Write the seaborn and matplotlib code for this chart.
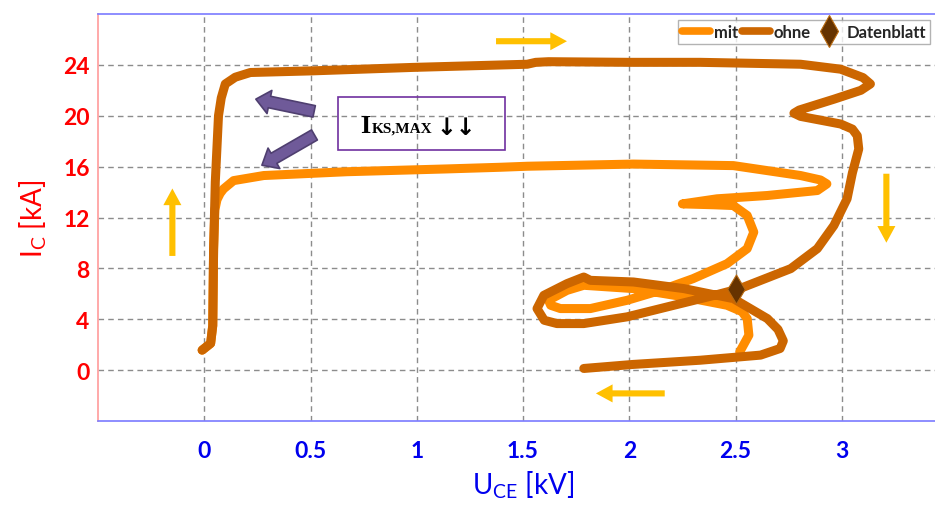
"""
IGBT short-circuit trajectory: I_C over U_CE, mit / ohne
"""

import matplotlib
matplotlib.use("Agg")
import matplotlib.pyplot as plt
import seaborn as sns
from matplotlib.lines import Line2D
from matplotlib.patches import Rectangle

sns.set_theme(style="white")
plt.rcParams["font.family"] = ["Lato", "DejaVu Sans"]

# --- data (U_CE in kV, I_C in kA) ---
ohne_u = [-0.01, 0.03, 0.04, 0.044, 0.052, 0.067, 0.08, 0.099, 0.146, 0.217,
          0.51, 0.98, 1.52, 1.56, 1.62, 2.0, 2.335, 2.806, 2.995, 3.10,
          3.135, 3.09, 2.963, 2.80, 2.775, 2.806, 2.995, 3.05, 3.073, 3.08,
          3.05, 3.025, 2.963, 2.885, 2.76, 2.52, 2.40, 2.21, 1.99, 1.786,
          1.66, 1.60, 1.566, 1.598, 1.707, 1.786, 1.817, 2.02, 2.257, 2.49,
          2.65, 2.70, 2.725, 2.71, 2.618, 2.335, 2.02, 1.786]
ohne_i = [1.57, 2.1, 3.5, 9.5, 14.8, 20.0, 21.4, 22.5, 23.03, 23.4,
          23.53, 23.8, 24.05, 24.2, 24.25, 24.2, 24.2, 24.05, 23.66, 23.0,
          22.5, 22.0, 21.3, 20.45, 20.2, 19.95, 19.35, 18.95, 18.43, 17.39,
          15.5, 13.47, 11.37, 9.55, 7.98, 6.41, 5.88, 5.1, 4.19, 3.66,
          3.66, 3.92, 4.84, 5.88, 6.8, 7.32, 7.06, 6.93, 6.41, 5.62,
          4.05, 3.2, 2.3, 1.7, 1.18, 0.78, 0.45, 0.13]

mit_u = [-0.01, 0.03, 0.04, 0.044, 0.05, 0.06, 0.075, 0.091, 0.138, 0.28,
         0.672, 1.143, 1.394, 1.52, 2.02, 2.49, 2.806, 2.90, 2.93, 2.885,
         2.65, 2.413, 2.25, 2.40, 2.49, 2.555, 2.586, 2.555, 2.46, 2.30,
         2.147, 1.99, 1.817, 1.676, 1.63, 1.62, 1.707, 1.786, 2.02, 2.257,
         2.46, 2.53, 2.555, 2.563, 2.52]
mit_i = [1.57, 2.1, 3.5, 9.5, 12.6, 13.4, 13.9, 14.25, 14.9, 15.3,
         15.6, 15.82, 15.95, 16.03, 16.2, 16.08, 15.3, 14.95, 14.64, 14.12,
         13.73, 13.47, 13.07, 13.0, 12.94, 12.16, 10.85, 9.55, 8.37, 7.19,
         6.27, 5.49, 4.84, 4.84, 5.1, 5.49, 6.27, 6.67, 6.41, 5.76,
         5.1, 4.6, 4.05, 2.75, 1.44]

datenblatt_u = [2.5]
datenblatt_i = [6.4]

x_ticks = [0, 0.5, 1, 1.5, 2, 2.5, 3]
x_labels = ["0", "0.5", "1", "1.5", "2", "2.5", "3"]
y_ticks = [0, 4, 8, 12, 16, 20, 24]

MIT = "#ff8c00"
OHNE = "#cc6600"
DIAMOND = "#663300"
ARROW = "#ffc000"
PURPLE = "#6f5a99"


def main():
    fig = plt.figure(figsize=(9.35, 5.06), dpi=100)
    # axes runs slightly past the right edge, the reference picture is cropped there
    ax = fig.add_axes([98 / 935, 84 / 506, 850 / 935, 407 / 506])

    line_kw = dict(sort=False, estimator=None, lw=6.5, solid_capstyle="round",
                   solid_joinstyle="round", ax=ax)
    sns.lineplot(x=mit_u, y=mit_i, color=MIT, **line_kw)
    sns.lineplot(x=ohne_u, y=ohne_i, color=OHNE, **line_kw)
    sns.scatterplot(x=datenblatt_u, y=datenblatt_i, marker="d", s=220,
                    color=DIAMOND, edgecolor="#b86a10", linewidth=0.8,
                    zorder=5, ax=ax)

    ax.set_xlim(-0.5, 3.5)
    ax.set_ylim(-4, 28)
    ax.set_xticks(x_ticks)
    ax.set_xticklabels(x_labels)
    ax.set_yticks(y_ticks)
    ax.tick_params(axis="both", length=0)
    ax.tick_params(axis="x", pad=14, labelsize=16.5, labelcolor="#0000ee")
    ax.tick_params(axis="y", pad=6, labelsize=16.5, labelcolor="#ff0000")
    for lab in ax.get_xticklabels() + ax.get_yticklabels():
        lab.set_fontweight("bold")

    ax.grid(True, color="#8c8c8c", lw=1.0, ls=(0, (4, 3)))
    ax.spines["left"].set_color("#ff9f9f")
    ax.spines["bottom"].set_color("#8080ff")
    ax.spines["top"].set_color("#8080ff")
    ax.spines["right"].set_visible(False)

    ax.set_xlabel(r"$\mathregular{U_{CE}}$ [kV]", fontsize=20, color="#0000ee",
                  labelpad=5)
    ax.set_ylabel(r"$\mathregular{I_C}$ [kA]", fontsize=20, color="#ff0000",
                  labelpad=10)

    # direction arrows
    arrow_kw = dict(arrowstyle="simple,head_length=0.6,head_width=0.65,tail_width=0.22",
                    mutation_scale=20, fc=ARROW, ec=ARROW, lw=0)
    for start, end in [((-0.15, 8.76), (-0.15, 14.5)),
                       ((1.36, 25.86), (1.72, 25.86)),
                       ((3.21, 15.66), (3.21, 9.8)),
                       ((2.18, -1.83), (1.83, -1.83))]:
        ax.annotate("", xy=end, xytext=start, arrowprops=arrow_kw)

    # purple block arrows pointing at the two current maxima
    purple_kw = dict(arrowstyle="simple,head_length=0.5,head_width=0.85,tail_width=0.42",
                     mutation_scale=20, fc=PURPLE, ec="#4f3f70", lw=1.2)
    ax.annotate("", xy=(0.23, 21.35), xytext=(0.53, 20.3), arrowprops=purple_kw)
    ax.annotate("", xy=(0.26, 16.0), xytext=(0.53, 18.6), arrowprops=purple_kw)

    ax.add_patch(Rectangle((0.629, 17.33), 0.788, 4.16, fill=False,
                           ec="#7030a0", lw=1.2, zorder=6))
    serif = ["Liberation Serif", "DejaVu Serif"]
    ax.text(0.734, 18.75, "I", fontsize=19, fontweight="bold", family=serif,
            color="black", va="baseline", zorder=7)
    ax.text(0.79, 18.75, "KS,MAX", fontsize=11, fontweight="bold",
            family=serif, color="black", va="baseline", zorder=7)
    ax.text(1.095, 18.6, "\u2193\u2193", fontsize=17, fontweight="bold",
            family=["DejaVu Sans"], color="black", va="baseline", zorder=7)

    handles = [
        Line2D([], [], color=MIT, lw=5.5),
        Line2D([], [], color=OHNE, lw=5.5),
        Line2D([], [], ls="none", marker="d", ms=16, color=DIAMOND,
               mec="#b86a10", mew=0.8),
    ]
    leg = ax.legend(handles, ["mit", "ohne", "Datenblatt"], ncol=3,
                    loc="upper left", bbox_to_anchor=(0.682, 0.985),
                    prop={"weight": "bold", "size": 12}, frameon=True,
                    fancybox=False, edgecolor="#a0a0a0", handlelength=1.7,
                    handletextpad=0.2, columnspacing=0.25, borderpad=0.25,
                    borderaxespad=0)
    leg.get_frame().set_linewidth(1.0)

    fig.savefig("out.png", dpi=100)


if __name__ == "__main__":
    main()
